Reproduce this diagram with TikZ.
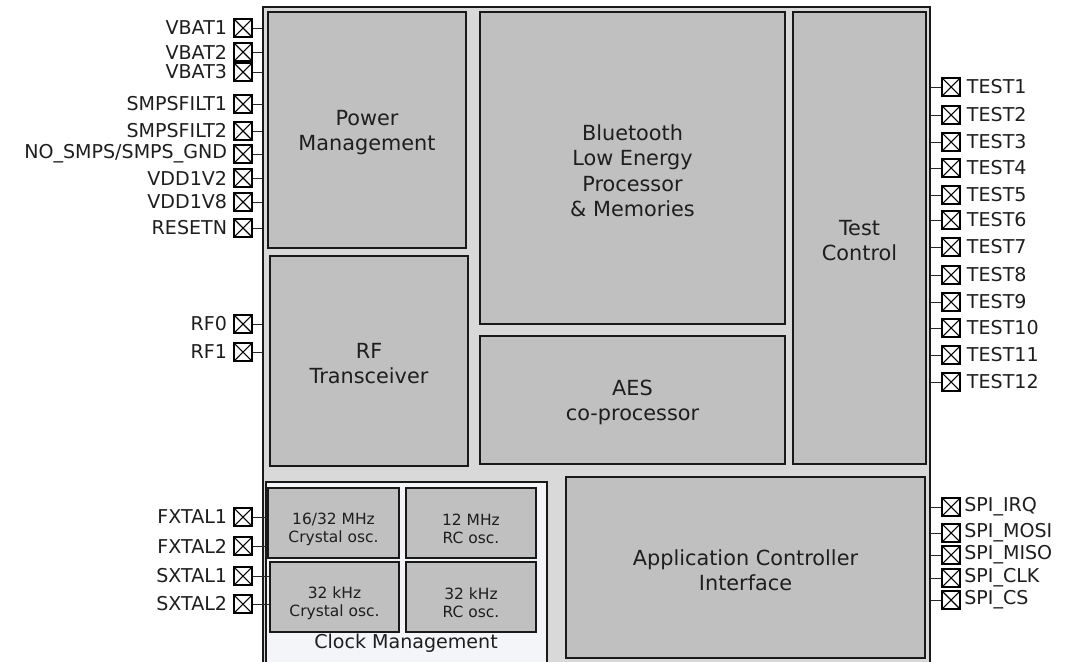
\documentclass[tikz,border=0pt]{standalone}
\usepackage{fontspec}
\setmainfont{DejaVu Sans}
\usepackage{xcolor}
\usetikzlibrary{positioning,fit}
\definecolor{chipgray}{HTML}{D9D9D9}
\definecolor{blkgray}{HTML}{C0C0C0}
\definecolor{clkbg}{HTML}{F3F5F8}
\definecolor{inkgray}{HTML}{1E1E1E}

\begin{document}
\begin{tikzpicture}[
    x=0.75pt, y=-0.75pt,
    blk/.style={draw=black!90, line width=1.1pt, fill=blkgray, inner sep=0pt},
    osc/.style={blk, line width=1pt},
    blktxt/.style={align=center, text=inkgray, inner sep=0pt, yshift=-2pt, font=\fontsize{15.6}{19}\selectfont},
    osctxt/.style={blktxt, yshift=-2.5pt, font=\fontsize{11.6}{13.7}\selectfont},
    pin/.style={draw=black, line width=1.3pt, fill=white, minimum size=13.2pt, inner sep=0pt,
        path picture={\draw[line width=0.8pt] (path picture bounding box.north west) -- (path picture bounding box.south east)
            (path picture bounding box.south west) -- (path picture bounding box.north east);}},
    pinlbl/.style={font=\fontsize{14.3}{17}\selectfont, text=inkgray, inner sep=0pt, label distance=4.5pt},
    wire/.style={line width=0.75pt, draw=black!85},
]
    \useasboundingbox (0,0) rectangle (1069,661);

    \node[fit={(263,7) (930,672)}, inner sep=0pt, draw=black!90, line width=0.8pt, fill=chipgray] (chip) {};

    \node[blk, fit={(268,12) (466,248)}, label={[blktxt]center:Power\\Management}] (pwr) {};
    \node[blk, fit={(480,12) (785,324)}, label={[blktxt]center:Bluetooth\\Low Energy\\Processor\\\& Memories}] (ble) {};
    \node[blk, fit={(793,12) (926,464)}, label={[blktxt]center:Test\\Control}] (tst) {};
    \node[blk, fit={(270,256) (468,466)}, label={[blktxt]center:RF\\Transceiver}] (rf) {};
    \node[blk, fit={(480,336) (785,464)}, label={[blktxt]center:AES\\co-processor}] (aes) {};
    \node[blk, fit={(566,477) (925,658)}, label={[blktxt]center:Application Controller\\Interface}] (aci) {};

    \node[fit={(266,482) (547,672)}, inner sep=0pt, draw=black!90, line width=0.9pt, fill=clkbg] (clk) {};
    \node[osc, fit={(268,488) (399,558)}, label={[osctxt]center:16/32 MHz\\Crystal osc.}] (xo) {};
    \node[osc, fit={(406,488) (536,558)}, label={[osctxt]center:12 MHz\\RC osc.}] (rco) {};
    \node[osc, fit={(270,562) (399,632)}, label={[osctxt]center:32 kHz\\Crystal osc.}] (xl) {};
    \node[osc, fit={(406,562) (536,632)}, label={[osctxt]center:32 kHz\\RC osc.}] (rcl) {};
    \node[font=\fontsize{14.3}{17}\selectfont, text=inkgray, inner sep=0pt] (clklbl) at (406,643) {Clock Management};

    \foreach \n/\t/\y in {vbat1/VBAT1/28, vbat2/VBAT2/52, vbat3/VBAT3/72, filt1/SMPSFILT1/104, filt2/SMPSFILT2/131,
        nosmps/{NO\_SMPS/SMPS\_GND}/154, vdd12/VDD1V2/178, vdd18/VDD1V8/202, rstn/RESETN/228, rf0/RF0/324, rf1/RF1/352}
    {
        \node[pin, label={[pinlbl]left:\t}] (\n) at (243,\y) {};
        \draw[wire] (\n) -- (\n -| chip.west);
    }
    \foreach \n/\t/\y in {fx1/FXTAL1/517, fx2/FXTAL2/546}
    {
        \node[pin, label={[pinlbl]left:\t}] (\n) at (243,\y) {};
        \draw[wire] (\n) -- (\n -| xo.west);
    }
    \foreach \n/\t/\y in {sx1/SXTAL1/576, sx2/SXTAL2/604}
    {
        \node[pin, label={[pinlbl]left:\t}] (\n) at (243,\y) {};
        \draw[wire] (\n) -- (\n -| xl.west);
    }
    \foreach \n/\y [count=\i] in {t1/87, t2/115, t3/142, t4/168, t5/195, t6/220, t7/247, t8/275, t9/302, t10/328, t11/355, t12/382}
    {
        \node[pin, label={[pinlbl]right:TEST\i}] (\n) at (951,\y) {};
        \draw[wire] (\n) -- (\n -| chip.east);
    }
    \foreach \n/\t/\y in {irq/SPI\_IRQ/507, mosi/SPI\_MOSI/533, miso/SPI\_MISO/555, sclk/SPI\_CLK/578, cs/SPI\_CS/600}
    {
        \node[pin, label={[pinlbl, label distance=2.5pt]right:\t}] (\n) at (951,\y) {};
        \draw[wire] (\n) -- (\n -| chip.east);
    }
\end{tikzpicture}
\end{document}
